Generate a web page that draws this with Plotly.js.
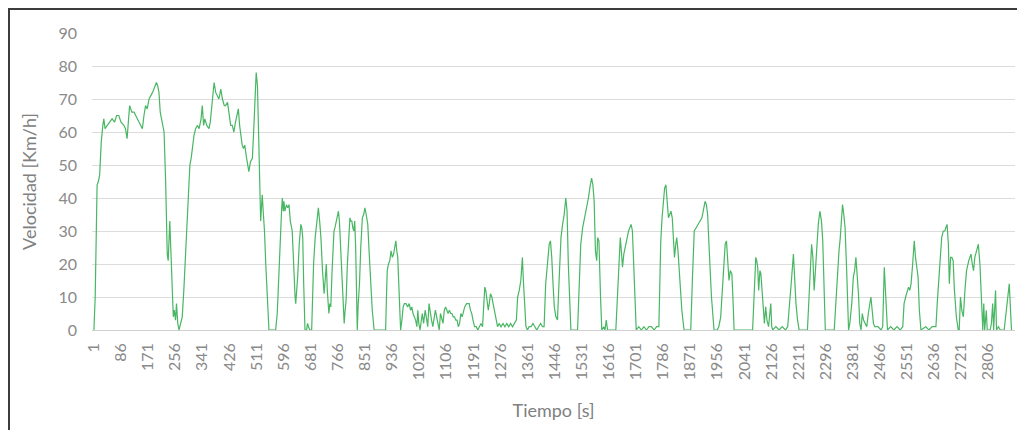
<!DOCTYPE html>
<html><head><meta charset="utf-8">
<script src="https://cdn.plot.ly/plotly-3.0.1.min.js"></script>
<style>
html,body{margin:0;padding:0;background:#fff;overflow:hidden;}
#chart{position:absolute;left:0;top:0;width:1017px;height:430px;}
#frame{position:absolute;left:8px;top:8px;width:1100px;height:600px;border-left:2px solid #3c3c3c;border-top:2px solid #3c3c3c;pointer-events:none;}
</style></head>
<body>
<div id="chart"></div>
<div id="frame"></div>
<script>
const time = [1,5,11,15,19,24,29,32,36,42,50,58,66,72,79,86,95,100,105,109,113,120,127,132,142,153,158,163,168,174,185,192,197,201,205,209,213,217,221,226,231,234,237,239,242,247,250,253,257,260,264,268,272,278,283,289,295,302,306,310,315,320,326,331,337,341,345,349,355,362,366,372,378,383,388,393,399,404,410,414,420,425,430,435,440,445,450,454,458,462,466,470,474,480,487,492,498,502,506,510,514,517,520,524,527,529,532,536,540,545,550,560,571,576,580,582,585,587,590,592,595,597,600,605,609,613,617,623,626,629,632,634,637,640,645,650,653,656,659,663,668,671,674,678,684,686,690,695,699,702,705,709,713,718,723,727,730,733,736,738,741,744,748,751,754,757,761,765,768,771,775,778,782,786,789,792,796,800,804,807,810,813,816,819,822,825,827,830,834,838,843,847,851,855,860,864,869,874,880,900,916,918,921,925,929,933,937,941,944,948,951,954,958,963,967,971,975,980,985,990,994,998,1002,1006,1010,1014,1017,1020,1024,1028,1031,1035,1040,1045,1048,1052,1056,1060,1064,1068,1072,1076,1080,1084,1088,1092,1096,1100,1104,1108,1112,1116,1120,1124,1128,1132,1136,1140,1144,1148,1152,1156,1160,1164,1170,1178,1182,1186,1190,1195,1200,1205,1210,1215,1220,1224,1227,1230,1234,1238,1241,1245,1249,1253,1257,1262,1267,1272,1278,1284,1290,1296,1302,1308,1314,1320,1326,1330,1335,1340,1345,1348,1352,1356,1361,1366,1372,1378,1384,1390,1396,1402,1408,1413,1418,1423,1429,1433,1437,1441,1445,1450,1455,1460,1466,1471,1476,1481,1485,1489,1493,1497,1518,1522,1528,1534,1540,1546,1552,1558,1562,1566,1570,1574,1578,1581,1585,1590,1594,1600,1604,1608,1612,1638,1643,1648,1652,1656,1659,1663,1667,1672,1678,1686,1690,1694,1698,1702,1710,1718,1726,1734,1742,1750,1758,1766,1773,1776,1779,1783,1787,1791,1795,1799,1803,1807,1811,1815,1818,1822,1826,1829,1833,1838,1845,1852,1873,1878,1884,1890,1896,1902,1908,1914,1918,1922,1926,1931,1938,1946,1956,1961,1967,1972,1977,1981,1985,1989,1993,1997,2002,2006,2009,2067,2071,2077,2080,2083,2086,2090,2093,2097,2101,2104,2108,2112,2117,2121,2124,2127,2130,2140,2150,2160,2170,2177,2183,2188,2195,2199,2203,2208,2213,2239,2244,2248,2252,2256,2260,2264,2268,2273,2278,2283,2287,2291,2295,2323,2328,2333,2338,2342,2346,2349,2353,2357,2362,2368,2372,2378,2383,2387,2391,2395,2399,2403,2407,2411,2415,2420,2425,2430,2434,2438,2442,2446,2450,2460,2470,2475,2480,2483,2486,2490,2500,2510,2520,2530,2538,2542,2547,2552,2556,2560,2564,2569,2574,2578,2582,2586,2590,2595,2610,2620,2630,2642,2646,2650,2655,2660,2665,2670,2673,2677,2681,2684,2688,2692,2696,2700,2706,2712,2715,2719,2723,2728,2733,2738,2745,2752,2756,2760,2764,2770,2775,2780,2784,2789,2792,2795,2800,2803,2812,2816,2820,2823,2829,2832,2838,2844,2856,2860,2866,2872,2876,2879];
const speed = [0,10,44,45,47,57,62,64,61,62,63,64,63,65,65,63,62,61,58,63,68,66,66,65,63,61,65,68,67,70,72,74,75,74,72,66,64,62,60,45,23,21,30,33,25,8,4,6,3,8,2,0,2,4,12,23,38,50,52,56,59,61,62,61,64,68,62,64,62,61,63,69,75,72,71,70,73,70,68,68,69,66,62,62,60,63,65,67,62,58,56,55,56,52,48,51,52,60,70,78,74,64,50,33,38,41,36,30,20,8,0,0,0,5,15,20,28,34,37,40,36,39,36,38,37,38,33,30,22,14,10,8,12,16,26,32,31,28,14,0,0,2,1,0,0,11,20,28,32,35,37,33,28,18,11,16,20,12,7,5,8,7,18,27,30,31,33,35,36,33,24,21,12,2,6,9,20,29,34,33,33,31,30,33,25,10,0,8,14,25,34,35,37,35,32,24,14,6,0,0,0,8,18,20,21,24,22,23,25,27,24,22,12,0,3,7,8,8,7,8,6,7,5,4,3,1,6,2,0,3,5,2,6,3,1,8,5,3,1,3,6,4,2,0,5,3,2,6,7,6,5,6,5,5,4,4,3,3,1,2,5,4,6,7,8,8,6,5,3,1,1,0,1,2,1,8,13,12,9,6,8,11,10,8,5,3,1,2,1,2,1,2,1,2,1,2,3,10,12,15,22,15,6,1,0,1,1,2,1,0,1,2,1,1,14,20,26,27,22,14,7,4,3,15,28,32,35,40,36,20,6,0,0,12,26,31,34,36,40,44,46,44,39,24,21,28,27,10,0,1,0,3,0,0,12,24,28,23,19,23,25,27,30,32,30,20,8,0,1,0,1,0,1,1,0,1,1,15,27,34,40,43,44,40,34,35,36,34,28,22,26,28,24,16,6,0,0,15,30,31,32,33,34,37,39,38,35,24,10,0,0,1,4,12,22,26,27,22,15,18,17,8,0,0,10,22,21,19,12,18,17,12,6,2,7,3,1,5,8,1,0,1,0,1,0,1,10,14,23,15,8,3,0,0,10,16,26,22,12,18,25,32,36,33,27,14,0,0,8,18,24,28,34,38,35,31,18,0,2,8,16,18,22,17,11,2,0,5,3,2,1,5,8,10,6,2,1,1,0,1,19,14,8,0,1,0,1,0,1,8,10,12,13,12,14,20,27,22,18,16,6,0,1,0,1,1,8,14,22,28,30,30,31,32,26,14,22,22,21,12,4,0,0,10,6,4,12,18,21,23,20,18,22,24,26,20,12,0,8,0,6,0,0,2,8,0,12,0,1,0,0,4,10,14,6,0];
const yTicks = [0,10,20,30,40,50,60,70,80,90];
const xTickVals = [];
for (let t = 1; t <= 2806; t += 85) xTickVals.push(t);
const xTickText = xTickVals.map(String);

const fontFam = 'Lato, "Open Sans", sans-serif';
Plotly.newPlot('chart', [{
  x: time, y: speed, type: 'scatter', mode: 'lines',
  line: {color: '#48b663', width: 1.2},
  hoverinfo: 'skip'
}], {
  width: 1017, height: 430,
  margin: {l: 92, r: 2, t: 33, b: 100},
  paper_bgcolor: '#fff', plot_bgcolor: '#fff',
  showlegend: false,
  font: {family: fontFam, color: '#8a8a8a', size: 16},
  xaxis: {
    range: [-5, 2890], tickmode: 'array', tickvals: xTickVals, ticktext: xTickText,
    tickangle: -90, showgrid: false, zeroline: false, showline: false, ticks: '',
    tickfont: {size: 16, color: '#8a8a8a'}, ticklabelstandoff: 9,
    automargin: false,
    title: {text: 'Tiempo [s]', font: {size: 18, color: '#808080'}, standoff: 25}
  },
  yaxis: {
    range: [0, 90], tickmode: 'array', tickvals: yTicks, showgrid: true,
    gridcolor: '#dcdcdc', gridwidth: 1, zeroline: true, zerolinecolor: '#d0d0d0', zerolinewidth: 1,
    showline: false, ticks: '', tickfont: {size: 16, color: '#8a8a8a'}, ticklabelstandoff: 14,
    automargin: false,
    title: {text: 'Velocidad [Km/h]', font: {size: 18, color: '#808080'}, standoff: 17}
  }
}, {staticPlot: true, displayModeBar: false});
</script>
</body></html>
